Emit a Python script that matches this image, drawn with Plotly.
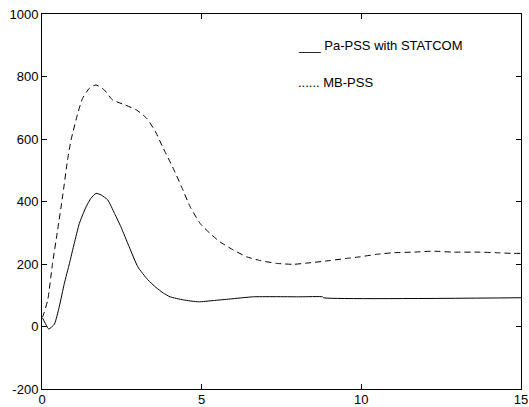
import plotly.graph_objects as go

# Pa-PSS with STATCOM (solid)
t_pa = [0.0, 0.02, 0.21, 0.39, 0.54, 0.70, 0.86, 1.01, 1.17, 1.38, 1.53, 1.69, 1.85, 2.06, 2.27,
        2.47, 2.73, 3.0, 3.31, 3.57, 3.80, 4.01, 4.43, 4.90, 5.36, 5.89, 6.62, 8.08, 8.79, 8.82, 15.0]
v_pa = [25, 26, -8, 8, 63, 138, 202, 266, 330, 383, 410, 426, 421, 405, 362,
        319, 255, 191, 150, 125, 107, 95, 85, 79, 83, 88, 95, 95, 95, 92, 92]

# MB-PSS (dashed)
t_mb = [0.0, 0.02, 0.18, 0.33, 0.49, 0.65, 0.80, 0.91, 1.12, 1.27, 1.48, 1.69, 1.95, 2.21, 2.6,
        2.96, 3.28, 3.54, 3.80, 4.11, 4.37, 4.64, 4.95, 5.26, 5.57, 5.99, 6.41, 6.83, 7.35, 7.87,
        8.39, 9.02, 9.54, 9.96, 10.48, 11.0, 11.63, 12.25, 12.88, 13.72, 14.24, 14.76, 15.0]
v_mb = [30, 31, 85, 202, 309, 420, 533, 597, 682, 730, 762, 773, 757, 725, 709,
        693, 666, 626, 570, 506, 447, 383, 330, 298, 271, 245, 223, 211, 202, 199,
        204, 211, 218, 223, 231, 236, 238, 241, 238, 238, 236, 234, 234]

x_ticks = [0, 5, 10, 15]
y_ticks = [-200, 0, 200, 400, 600, 800, 1000]
legend_texts = ["___ Pa-PSS with STATCOM", "...... MB-PSS"]
legend_y = [900, 780]
legend_x = 8

fig = go.Figure()
fig.add_trace(go.Scatter(x=t_pa, y=v_pa, mode="lines",
                         line=dict(color="black", width=1, shape="spline", smoothing=0.5),
                         showlegend=False))
fig.add_trace(go.Scatter(x=t_mb, y=v_mb, mode="lines",
                         line=dict(color="black", width=1, dash="6px,4px", shape="spline", smoothing=0.5),
                         showlegend=False))

for txt, yy in zip(legend_texts, legend_y):
    fig.add_annotation(x=legend_x, y=yy, text=txt, showarrow=False, xanchor="left",
                       yanchor="middle", borderpad=0, font=dict(size=13, color="black"))

axis_common = dict(showgrid=False, zeroline=False, showline=True, linecolor="black",
                   linewidth=1, mirror="allticks", ticks="inside", ticklen=5,
                   tickcolor="black", automargin=False, ticklabeloverflow="allow",
                   tickfont=dict(size=13, color="black",
                                 family="Liberation Sans, Arial, sans-serif"))

fig.update_xaxes(range=[0, 15], tickvals=x_ticks, ticktext=[str(v) for v in x_ticks],
                 ticklabelstandoff=-2, **axis_common)
fig.update_yaxes(range=[-200, 1000], tickvals=y_ticks, ticktext=[str(v) for v in y_ticks], **axis_common)

fig.update_layout(width=529, height=407, margin=dict(l=42, r=8, t=14, b=18),
                  plot_bgcolor="white", paper_bgcolor="white",
                  font=dict(family="Liberation Sans, Arial, sans-serif", size=13, color="black"))

# remove the browser's default 8px body margin so the figure fills the window exactly
fig.write_html("out.html", config={"displayModeBar": False},
               post_script="document.body.style.margin='0';document.body.style.overflow='hidden';")
